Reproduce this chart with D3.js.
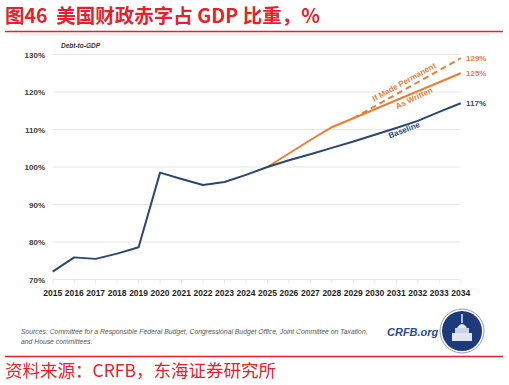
<!DOCTYPE html>
<html>
<head>
<meta charset="utf-8">
<script src="https://cdn.jsdelivr.net/npm/d3@7"></script>
<style>
  body { margin: 0; background: #fff; }
  svg text { font-family: "Liberation Sans", Arial, sans-serif; }
  .cjk { font-family: "Noto Sans CJK SC", sans-serif !important; }
</style>
</head>
<body>
<svg id="chart" width="509" height="385"></svg>
<script>
// datos
var years = d3.range(2015, 2035);
var pastDebt = [72.1, 75.9, 75.5, 76.9, 78.6, 98.5, 96.8, 95.2, 96.0, 97.9, 100.0]; // 2015-2025
var baseline = [100.0, 101.8, 103.4, 105.1, 106.8, 108.6, 110.4, 112.3, 114.7, 117.0]; // 2025-2034
var asWritten = [100.0, 103.6, 107.2, 110.6, 113.0, 115.4, 117.8, 120.2, 122.6, 125.0];
var permanent = [113.0, 116.2, 119.4, 122.6, 125.8, 129.0]; // 2029-2034
var yTicks = [70, 80, 90, 100, 110, 120, 130];
var endLabels = [
  {text: "129%", value: 129, color: "#e3803f"},
  {text: "125%", value: 125, color: "#e3803f"},
  {text: "117%", value: 117, color: "#2a4a7f"}
];

var svg = d3.select("#chart");
var red = "#e4222d", orange = "#ed7d31", navy = "#2a4672";

//titulo
svg.append("text").attr("class", "cjk")
  .attr("x", 5).attr("y", 23)
  .attr("font-size", 19.5).attr("font-weight", "bold").attr("fill", red)
  .attr("xml:space", "preserve")
  .text("图46  美国财政赤字占 GDP 比重，%");
svg.append("line").attr("x1", 5).attr("x2", 503).attr("y1", 31.5).attr("y2", 31.5)
  .attr("stroke", red).attr("stroke-width", 1.5);
svg.append("rect").attr("x", 20).attr("y", 33).attr("width", 470).attr("height", 3)
  .attr("fill", "#f2f2f2");

var x = d3.scaleLinear().domain([2015, 2034]).range([52.7, 460.7]);
var y = d3.scaleLinear().domain([70, 130]).range([279.5, 54.5]);

//grid
svg.append("g").selectAll("line").data(yTicks).enter().append("line")
  .attr("x1", x(2015)).attr("x2", x(2034))
  .attr("y1", function(d){ return y(d) }).attr("y2", function(d){ return y(d) })
  .attr("stroke", "#e6e6e6").attr("stroke-width", 1);

// ticks del eje x
svg.append("g").selectAll("line").data(years).enter().append("line")
  .attr("x1", function(d){ return x(d) }).attr("x2", function(d){ return x(d) })
  .attr("y1", y(70)).attr("y2", y(70) + 4)
  .attr("stroke", "#e6e6e6");

svg.append("g").selectAll("text").data(yTicks).enter().append("text")
  .attr("x", 45).attr("y", function(d){ return y(d) + 3 })
  .attr("text-anchor", "end").attr("font-size", 8).attr("font-weight", "bold")
  .attr("fill", "#3a3a3a")
  .text(function(d){ return d + "%" });

svg.append("g").selectAll("text").data(years).enter().append("text")
  .attr("x", function(d){ return x(d) }).attr("y", 296)
  .attr("text-anchor", "middle").attr("font-size", 8.5).attr("font-weight", "bold")
  .attr("fill", "#1e1e1e")
  .text(function(d){ return d });

svg.append("text").attr("x", 61).attr("y", 48)
  .attr("font-size", 6.5).attr("font-style", "italic").attr("font-weight", "bold")
  .attr("fill", "#333").text("Debt-to-GDP");

var line = d3.line().x(function(d){ return x(d[0]) }).y(function(d){ return y(d[1]) });

function pairs(start, vals){ return vals.map(function(v, i){ return [start + i, v] }) }

svg.append("path").datum(pairs(2025, asWritten)).attr("d", line)
  .attr("fill", "none").attr("stroke", orange).attr("stroke-width", 2);
svg.append("path").datum(pairs(2029, permanent)).attr("d", line)
  .attr("fill", "none").attr("stroke", orange).attr("stroke-width", 2)
  .attr("stroke-dasharray", "6,4");
svg.append("path").datum(pairs(2015, pastDebt).concat(pairs(2025, baseline).slice(1))).attr("d", line)
  .attr("fill", "none").attr("stroke", navy).attr("stroke-width", 2)
  .attr("stroke-linejoin", "round");

svg.append("g").selectAll("text").data(endLabels).enter().append("text")
  .attr("x", 466).attr("y", function(d){ return y(d.value) + 3 })
  .attr("font-size", 8).attr("font-weight", "bold")
  .attr("fill", function(d){ return d.color })
  .text(function(d){ return d.text });

//etiquetas de las series
var labels = [
  {text: "If Made Permanent", cx: 404, cy: 82, rot: -29, color: "#e3803f"},
  {text: "As Written", cx: 414, cy: 98, rot: -26, color: "#e3803f"},
  {text: "Baseline", cx: 404, cy: 130, rot: -21, color: "#2a4a7f"}
];
svg.append("g").selectAll("text").data(labels).enter().append("text")
  .attr("transform", function(d){ return "translate(" + d.cx + "," + d.cy + ")rotate(" + d.rot + ")" })
  .attr("text-anchor", "middle").attr("dy", "0.35em")
  .attr("font-size", 8).attr("font-weight", "bold")
  .attr("fill", function(d){ return d.color })
  .text(function(d){ return d.text });

// fuentes
var src = svg.append("text").attr("font-size", 6.8).attr("font-style", "italic").attr("fill", "#555");
src.append("tspan").attr("x", 21).attr("y", 334)
  .text("Sources: Committee for a Responsible Federal Budget, Congressional Budget Office, Joint Committee on Taxation,");
src.append("tspan").attr("x", 21).attr("y", 343.5).text("and House committees.");

svg.append("text").attr("x", 387).attr("y", 336)
  .attr("font-size", 11).attr("font-weight", "bold").attr("font-style", "italic")
  .attr("fill", "#2a4a8f").text("CRFB.org");

// logo
var logo = svg.append("g").attr("transform", "translate(462,331)");
logo.append("circle").attr("r", 22).attr("fill", "#fff").attr("stroke", "#8a9bb8").attr("stroke-width", 1);
logo.append("circle").attr("r", 20).attr("fill", "#1d3a7a");
logo.append("rect").attr("x", -10).attr("y", 2).attr("width", 20).attr("height", 8).attr("fill", "#dfe6f2");
logo.append("rect").attr("x", -7).attr("y", -3).attr("width", 14).attr("height", 5).attr("fill", "#c9d3e6");
logo.append("path").attr("d", "M-5,-3 Q0,-11 5,-3 Z").attr("fill", "#dfe6f2");
logo.append("line").attr("x1", 0).attr("x2", 0).attr("y1", -17).attr("y2", -8)
  .attr("stroke", "#dfe6f2").attr("stroke-width", 1.5);

svg.append("line").attr("x1", 5).attr("x2", 503).attr("y1", 356.5).attr("y2", 356.5)
  .attr("stroke", red).attr("stroke-width", 1.5);
svg.append("text").attr("class", "cjk")
  .attr("x", 5).attr("y", 377)
  .attr("font-size", 17.5).attr("fill", red)
  .text("资料来源：CRFB，东海证券研究所");
</script>
</body>
</html>
